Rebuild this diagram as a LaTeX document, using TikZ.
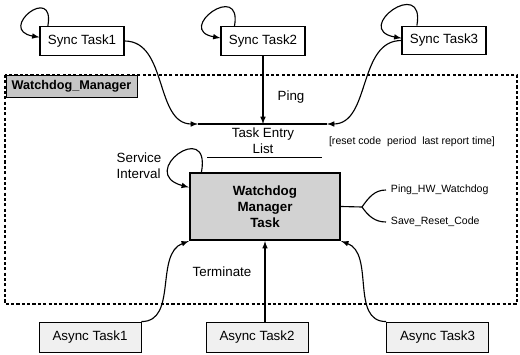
\documentclass[tikz,border=0pt]{standalone}
\usepackage{fontspec}
\setmainfont{Liberation Sans}
\usepackage{tikz}
\usetikzlibrary{arrows}
\tikzstyle{every node}=[font=\fontsize{9.5}{11.4}\selectfont]
\tikzstyle{synctask}=[draw, line width=0.8pt, fill=white, minimum width=2.1cm, minimum height=0.72cm, inner sep=1pt]
\tikzstyle{asynctask}=[draw, line width=0.6pt, fill=gray!12, minimum width=2.55cm, minimum height=0.75cm, inner sep=1pt]
\tikzstyle{mgrtask}=[draw, line width=1.6pt, fill=gray!35, minimum width=3.75cm, minimum height=1.675cm, align=center, font=\fontsize{9.5}{11.4}\selectfont\bfseries]
\tikzstyle{link}=[line width=0.8pt, -latex]
\tikzstyle{small label}=[font=\fontsize{7.5}{9}\selectfont]

\begin{document}
\begin{tikzpicture}[x=0.025cm, y=-0.025cm]
\useasboundingbox (0,0) rectangle (520,355);
\draw[line width=1.4pt, dash pattern=on 2.2pt off 1.6pt] (5,75) rectangle (517,304);
\node[draw, line width=0.6pt, fill=gray!45, minimum width=3.275cm, minimum height=0.55cm, font=\fontsize{9}{10}\selectfont\bfseries] (tag) at (71.5,86) {Watchdog\_Manager};
\node[synctask] (s1) at (82,41) {Sync Task1};
\node[synctask] (s2) at (263,41) {Sync Task2};
\node[synctask] (s3) at (444,40.5) {Sync Task3};
\node[asynctask] (a1) at (90,337) {Async Task1};
\node[asynctask] (a2) at (257,337) {Async Task2};
\node[asynctask] (a3) at (437.5,337) {Async Task3};
\node[mgrtask] (wmt) at (265,206.5) {Watchdog\\Manager\\Task};
\coordinate (eL) at (198,124);
\coordinate (eR) at (327,124);
\coordinate (lL) at (207,157);
\coordinate (lR) at (322,157);
\draw[line width=0.8pt] (eL) -- (eR);
\draw[line width=0.7pt] (lL) -- (lR);
\node[align=center] (entry) at (263,141) {Task Entry\\List};
\node[small label] (fields) at (412,142) {[reset code\ \ period\ \ last report time]};
\draw[link] (s1.east) to[out=0,in=180] (eL);
\draw[link] (s2.south) -- (s2.south |- eL);
\draw[link] (s3.west) to[out=180,in=0] (eR);
\node (ping) at (291,97) {Ping};
\draw[link] ([xshift=6pt]s1.north west) to[out=80,in=170,looseness=8] ([yshift=-8pt]s1.north west);
\draw[link] ([xshift=10pt]s2.north west) to[out=80,in=170,looseness=6.5] ([yshift=-8.5pt]s2.north west);
\draw[link] ([xshift=11pt]s3.north west) to[out=80,in=170,looseness=6.5] ([yshift=-9pt]s3.north west);
\draw[link] ([xshift=9pt]wmt.north west) to[out=80,in=165,looseness=7] ([yshift=-11pt]wmt.north west);
\node[align=left] (svc) at (139,166) {Service\\Interval};
\coordinate (fk) at (362,207);
\draw[line width=0.8pt] (wmt.east) -- (fk);
\node[small label, anchor=west] (hw) at (386,190) {Ping\_HW\_Watchdog};
\node[small label, anchor=west] (rc) at (386,222) {Save\_Reset\_Code};
\draw[line width=0.8pt] (fk) to[out=55,in=180] (hw.west);
\draw[line width=0.8pt] (fk) to[out=-55,in=180] (rc.west);
\draw[link] (a1.north east) to[out=0,in=200] (wmt.south west);
\draw[link] (a2.north -| wmt.south) -- (wmt.south);
\draw[link] (a3.north west) to[out=180,in=-20] (wmt.south east);
\node (term) at (222,272) {Terminate};
\end{tikzpicture}
\end{document}
